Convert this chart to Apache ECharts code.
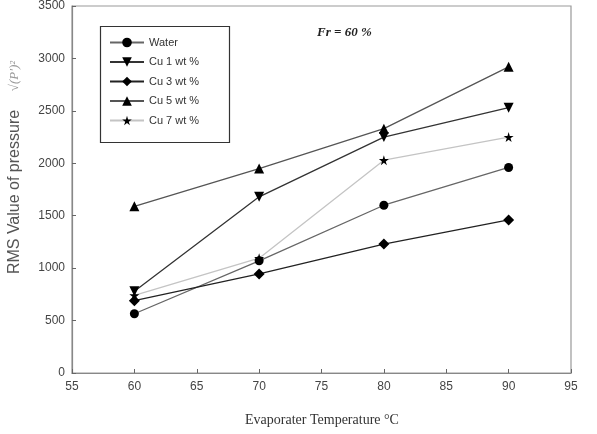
<!DOCTYPE html>
<html><head><meta charset="utf-8">
<script src="https://cdn.jsdelivr.net/npm/echarts@6/dist/echarts.min.js"></script>
<style>html,body{margin:0;padding:0;background:#fff}#c{width:597px;height:434px}</style>
</head><body><div id="c"></div>
<script>
var temps = [60, 70, 80, 90];
var water = [565, 1070, 1600, 1960];
var cu1 = [780, 1680, 2250, 2530];
var cu3 = [690, 945, 1230, 1460];
var cu5 = [1590, 1950, 2330, 2920];
var cu7 = [740, 1095, 2030, 2250];
var xTicks = [55, 60, 65, 70, 75, 80, 85, 90, 95];
var yTicks = [0, 500, 1000, 1500, 2000, 2500, 3000, 3500];
var names = ['Water', 'Cu 1 wt %', 'Cu 3 wt %', 'Cu 5 wt %', 'Cu 7 wt %'];

function pairs(v){ return temps.map(function(t,i){ return [t, v[i]]; }); }
var STAR = 'path://M50,0 L61,35 L98,35 L68,57 L79,91 L50,70 L21,91 L32,57 L2,35 L39,35 Z';
var TRI_DOWN = 'path://M0,0 L10,0 L5,9 Z';
var TRI_UP = 'path://M5,0 L10,9 L0,9 Z';
var specs = [
  {data: water, color: '#666', sym: 'circle', size: 9},
  {data: cu1, color: '#333', sym: TRI_DOWN, size: 10},
  {data: cu3, color: '#222', sym: 'diamond', size: 11},
  {data: cu5, color: '#555', sym: TRI_UP, size: 10},
  {data: cu7, color: '#c4c4c4', sym: STAR, size: 10}
];
var chart = echarts.init(document.getElementById('c'), null, {renderer: 'canvas'});
var series = specs.map(function(s, i){
  return {
    name: names[i], type: 'line', data: pairs(s.data),
    symbol: s.sym, symbolSize: s.size, showAllSymbol: true,
    lineStyle: {color: s.color, width: 1.3},
    itemStyle: {color: '#000', borderWidth: 0},
    emphasis: {disabled: true}, animation: false
  };
});
function lab(v){ return String(v); }
chart.setOption({
  animation: false,
  grid: {left: 72, right: 26, top: 5, bottom: 61, show: true, borderColor: '#999', borderWidth: 1.2},
  xAxis: {
    type: 'value', min: 55, max: 95, interval: 5,
    axisLine: {show: true, lineStyle: {color: '#888', width: 1.2}},
    axisTick: {show: true, inside: true, length: 4, lineStyle: {color: '#666'}},
    axisLabel: {color: '#444', fontFamily: 'Liberation Sans', fontSize: 12, margin: 8,
      formatter: function(v){ return xTicks.indexOf(v) >= 0 ? lab(v) : ''; }},
    splitLine: {show: false}
  },
  yAxis: {
    type: 'value', min: 0, max: 3500, interval: 500,
    axisLine: {show: true, lineStyle: {color: '#888', width: 1.2}},
    axisTick: {show: true, inside: true, length: 4, lineStyle: {color: '#666'}},
    axisLabel: {color: '#444', fontFamily: 'Liberation Sans', fontSize: 12, margin: 7,
      formatter: function(v){ return yTicks.indexOf(v) >= 0 ? lab(v) : ''; }},
    splitLine: {show: false}
  },
  legend: {
    orient: 'vertical', left: 109, top: 37, padding: 0,
    itemWidth: 34, itemHeight: 12, itemGap: 8.5,
    textStyle: {color: '#333', fontFamily: 'Liberation Sans', fontSize: 11},
    data: names
  },
  graphic: [
    {type: 'rect', left: 98, top: 24, shape: {width: 129, height: 116},
     style: {fill: 'none', stroke: '#333', lineWidth: 1.2}, z: 10},
    {type: 'text', left: 317, top: 26,
     style: {text: 'Fr = 60 %', font: 'italic bold 13px "Liberation Serif"', fill: '#222'}},
    {type: 'text', x: 322, y: 420,
     style: {text: 'Evaporater Temperature \u00B0C', font: '14px "Liberation Serif"', fill: '#333',
       align: 'center', verticalAlign: 'middle'}},
    {type: 'text', x: 15, y: 192, rotation: Math.PI / 2,
     style: {text: 'RMS Value of pressure', font: '16px "Liberation Sans"', fill: '#555',
       align: 'center', verticalAlign: 'middle'}},
    {type: 'text', x: 15, y: 76, rotation: Math.PI / 2,
     style: {text: '\u221A(P\u2032)\u00B2', font: 'italic 13px "Liberation Serif"', fill: '#999',
       align: 'center', verticalAlign: 'middle'}}
  ],
  series: series
});
</script></body></html>
